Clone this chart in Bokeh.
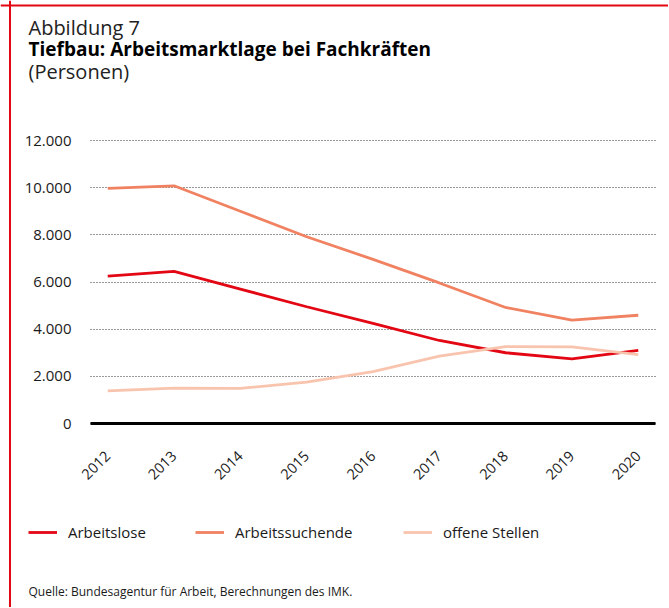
import math
from bokeh.plotting import figure
from bokeh.models import (ColumnDataSource, FixedTicker, Label, Legend, LegendItem, Range1d, Grid, Span)
from bokeh.embed import file_html
from bokeh.resources import INLINE

years = [2012, 2013, 2014, 2015, 2016, 2017, 2018, 2019, 2020]
arbeitslose = [6250, 6450, 5700, 4950, 4250, 3520, 3000, 2740, 3100]
arbeitssuchende = [9970, 10080, 9000, 7920, 6960, 5960, 4920, 4380, 4590]
offene_stellen = [1380, 1500, 1490, 1750, 2200, 2860, 3260, 3250, 2920]

series_names = ["Arbeitslose", "Arbeitssuchende", "offene Stellen"]
series_colors = ["#E30613", "#F08262", "#F9C4AE"]
y_ticks = [0, 2000, 4000, 6000, 8000, 10000, 12000]
y_tick_labels = ["0", "2.000", "4.000", "6.000", "8.000", "10.000", "12.000"]

title_line1 = "Abbildung 7"
title_line2 = "Tiefbau: Arbeitsmarktlage bei Fachkräften"
title_line3 = "(Personen)"
source_text = "Quelle: Bundesagentur für Arbeit, Berechnungen des IMK."

FONT = "Open Sans"
TEXT = "#1a1a1a"
FRAME_RED = "#E30613"

# ---- layout geometry (page pixels) ----
OX, OY = 0, 0           # canvas origin on the page
W, H = 668, 607         # canvas size
FL, FR, FT, FB = 90, 655, 140, 423   # chart area: left, right, top (12000), bottom (0)
XPAD = 0.26             # category padding at both ends (in years)
YMAX = 12000

x_lo, x_hi = years[0] - XPAD, years[-1] + XPAD
px_per_year = (FR - FL) / (x_hi - x_lo)
px_per_unit = (FB - FT) / YMAX
x_start = x_lo - (FL - OX) / px_per_year
x_end = x_hi + (OX + W - FR) / px_per_year
y_start = -(OY + H - FB) / px_per_unit
y_end = YMAX + (FT - OY) / px_per_unit

def sx(page_x):
    return page_x - OX

def sy(page_y):
    return OY + H - page_y

src = ColumnDataSource(dict(year=years, a=arbeitslose, s=arbeitssuchende, o=offene_stellen))

p = figure(width=W, height=H, output_backend="svg", toolbar_location=None,
           x_range=Range1d(x_start, x_end), y_range=Range1d(y_start, y_end),
           min_border=0, min_border_left=0, min_border_right=0,
           min_border_top=0, min_border_bottom=0)
p.outline_line_color = None
p.background_fill_color = "white"
p.border_fill_color = "white"

# red frame (top and left edges only, as in the reference)
p.add_layout(Span(location=sy(5), location_units="screen", dimension="width",
                  line_color=FRAME_RED, line_width=2))
p.add_layout(Span(location=sx(9.5), location_units="screen", dimension="height",
                  line_color=FRAME_RED, line_width=2))

renderers = []
for col, color in zip(["a", "s", "o"], series_colors):
    r = p.line("year", col, source=src, line_color=color, line_width=2.8)
    renderers.append(r)

# axes, fixed inside the frame so that all texts share one canvas
p.xaxis.fixed_location = 0
p.xaxis.bounds = (x_lo, x_hi)
p.xaxis.ticker = FixedTicker(ticks=years)
p.xaxis.major_label_orientation = math.pi / 4
p.xaxis.axis_line_color = "black"
p.xaxis.axis_line_width = 3
p.xaxis.major_tick_line_color = None
p.xaxis.minor_tick_line_color = None
p.xaxis.major_label_text_font = FONT
p.xaxis.major_label_text_font_size = "14.5px"
p.xaxis.major_label_text_color = TEXT
p.xaxis.major_label_standoff = 24

p.yaxis.fixed_location = x_lo
p.yaxis.bounds = (0, YMAX)
p.yaxis.ticker = FixedTicker(ticks=y_ticks)
p.yaxis.major_label_overrides = {t: l for t, l in zip(y_ticks, y_tick_labels)}
p.yaxis.axis_line_color = None
p.yaxis.major_tick_line_color = None
p.yaxis.minor_tick_line_color = None
p.yaxis.major_label_text_font = FONT
p.yaxis.major_label_text_font_size = "15px"
p.yaxis.major_label_text_color = TEXT
p.yaxis.major_label_standoff = 13

p.xgrid.grid_line_color = None
p.ygrid.grid_line_color = "#333333"
p.ygrid.grid_line_dash = "1 2"
p.ygrid.grid_line_width = 1
p.ygrid.bounds = (0, YMAX)
if "cross_bounds" in Grid.properties():
    p.ygrid.cross_bounds = (x_lo, x_hi)

# titles and source (page baseline positions, corrected for text box descent)
def add_text(text, page_x, page_baseline, size, bold=False, color=TEXT):
    p.add_layout(Label(x=sx(page_x), y=sy(page_baseline - 0.35 * size),
                       x_units="screen", y_units="screen", text=text,
                       text_font=FONT, text_font_size=f"{size}px",
                       text_font_style="bold" if bold else "normal",
                       text_color=color, text_baseline="alphabetic"))

add_text(title_line1, 28, 34, 20, color="#222222")
add_text(title_line2, 28, 55, 19, bold=True, color="#000000")
add_text(title_line3, 28, 78, 20, color="#222222")
add_text(source_text, 28, 595, 12)

# legends (one per item for exact placement)
legend_page_x = [28, 195, 403]
LEG_CY, LEG_H = 532, 20
for name, r, lx in zip(series_names, renderers, legend_page_x):
    lg = Legend(items=[LegendItem(label=name, renderers=[r])],
                location=(sx(lx), sy(LEG_CY + LEG_H / 2)),
                orientation="horizontal", padding=0, margin=0, spacing=0,
                glyph_width=29, glyph_height=LEG_H, label_height=LEG_H, label_standoff=11,
                label_text_font=FONT, label_text_font_size="15px", label_text_color=TEXT,
                border_line_color=None, background_fill_alpha=0)
    p.add_layout(lg, "center")

open("out.html", "w").write(file_html(p, INLINE))
